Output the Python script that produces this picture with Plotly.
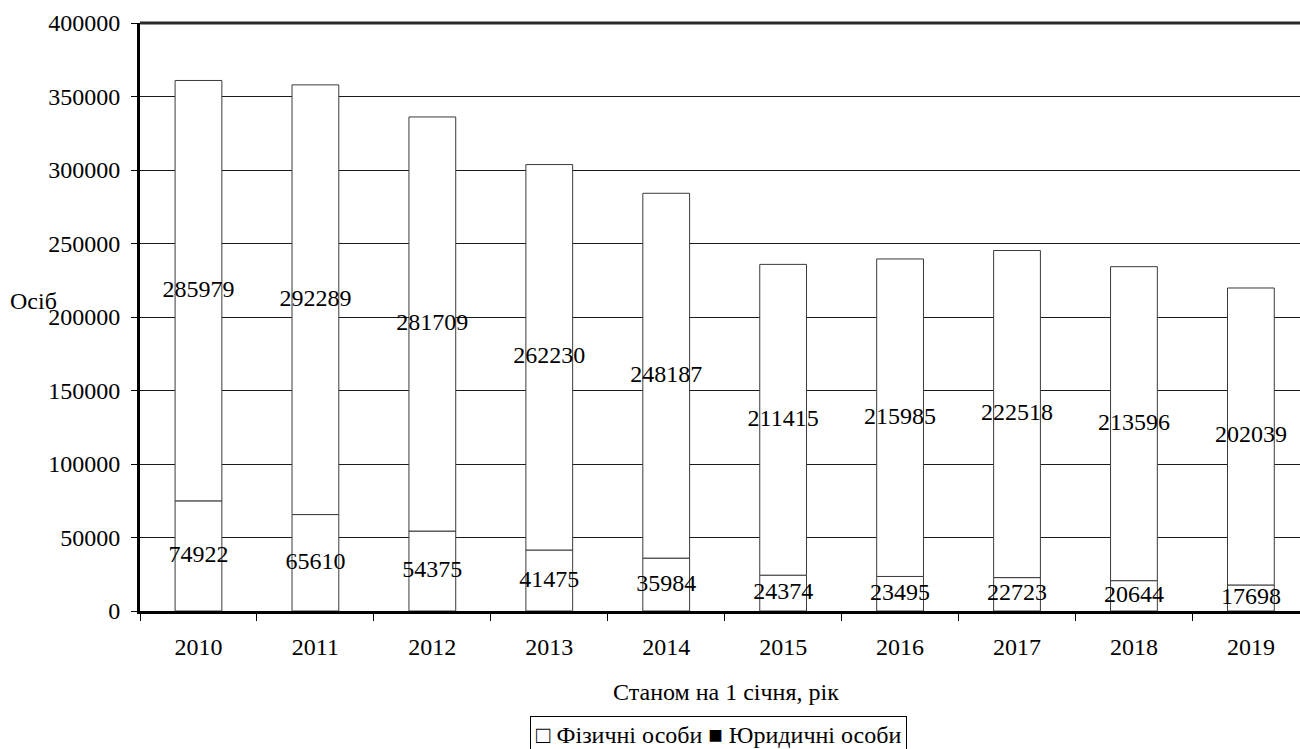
import plotly.graph_objects as go

# Data: number of persons as of 1 January of each year
years = ["2010", "2011", "2012", "2013", "2014", "2015", "2016", "2017", "2018", "2019"]
legal_persons = [74922, 65610, 54375, 41475, 35984, 24374, 23495, 22723, 20644, 17698]
natural_persons = [285979, 292289, 281709, 262230, 248187, 211415, 215985, 222518, 213596, 202039]
y_ticks = [0, 50000, 100000, 150000, 200000, 250000, 300000, 350000, 400000]

FONT = "Liberation Serif, Times New Roman, serif"
FS = 24
bar_line = dict(color="#3a3a3a", width=1)

fig = go.Figure()

# Stacked bars: lower segment, then upper segment
fig.add_trace(go.Bar(x=years, y=legal_persons, name="Юридичні особи",
                     marker=dict(color="white", line=bar_line), width=0.4,
                     hoverinfo="skip"))
fig.add_trace(go.Bar(x=years, y=natural_persons, name="Фізичні особи",
                     base=legal_persons,
                     marker=dict(color="white", line=bar_line), width=0.4,
                     hoverinfo="skip"))

# Value labels centred in each segment
low_mid = [v / 2 for v in legal_persons]
up_mid = [l + u / 2 for l, u in zip(legal_persons, natural_persons)]
fig.add_trace(go.Scatter(x=years, y=low_mid, mode="text",
                         text=[str(v) for v in legal_persons],
                         textfont=dict(family=FONT, size=FS, color="black"),
                         cliponaxis=False, hoverinfo="skip"))
fig.add_trace(go.Scatter(x=years, y=up_mid, mode="text",
                         text=[str(v) for v in natural_persons],
                         textfont=dict(family=FONT, size=FS, color="black"),
                         cliponaxis=False, hoverinfo="skip"))

fig.update_layout(
    width=1300, height=749,
    margin=dict(l=140, r=0, t=23, b=138),
    paper_bgcolor="white", plot_bgcolor="white",
    barmode="overlay",
    showlegend=False,
    font=dict(family=FONT, size=FS, color="black"),
    xaxis=dict(type="category", range=[-0.5, 9.42],
               showgrid=False, showline=True, linecolor="black", linewidth=2.5,
               ticks="outside", tickson="boundaries", ticklen=7, tickcolor="black",
               tickwidth=1, ticklabelstandoff=12,
               tickfont=dict(family=FONT, size=FS, color="black")),
    yaxis=dict(range=[0, 400000], tickvals=y_ticks,
               ticktext=[str(v) for v in y_ticks],
               showgrid=True, gridcolor="#1a1a1a", gridwidth=1,
               showline=True, linecolor="black", linewidth=3,
               ticks="outside", ticklen=6, tickcolor="black", tickwidth=1,
               ticklabelstandoff=6, zeroline=False,
               tickfont=dict(family=FONT, size=FS, color="black")),
    shapes=[dict(type="line", xref="paper", yref="paper", x0=0, x1=1, y0=1, y1=1,
                 line=dict(color="#2a2a2a", width=3), layer="above")],
    annotations=[
        dict(text="Осіб", xref="paper", yref="paper", x=-0.0918, y=0.527,
             showarrow=False, font=dict(family=FONT, size=FS, color="black"),
             xanchor="center", yanchor="middle"),
        dict(text="Станом на 1 січня, рік", xref="paper", yref="paper",
             x=0.505, y=-0.1378, showarrow=False,
             font=dict(family=FONT, size=FS, color="black"),
             xanchor="center", yanchor="middle"),
        dict(text="□ Фізичні особи ■ Юридичні особи", xref="paper", yref="paper",
             x=0.4983, y=-0.2105, showarrow=False,
             font=dict(family=FONT, size=FS, color="black"),
             xanchor="center", yanchor="middle",
             bordercolor="black", borderwidth=1, borderpad=5, bgcolor="white"),
    ],
)

fig.write_html("out.html")
